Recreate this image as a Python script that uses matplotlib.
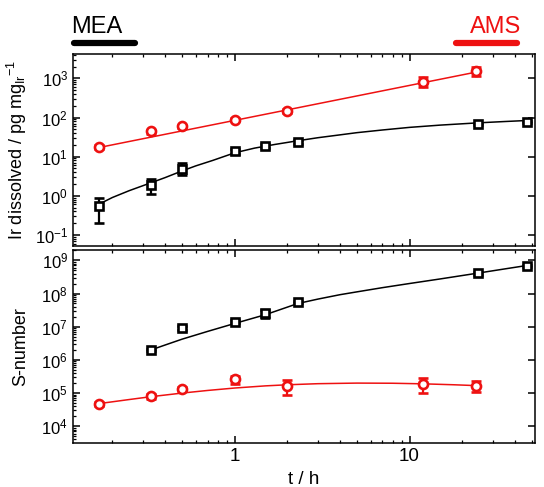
import numpy as np
import matplotlib
matplotlib.use('Agg')
import matplotlib.pyplot as plt
from matplotlib.ticker import LogLocator, NullFormatter, FixedLocator, FixedFormatter

plt.rcParams['font.family'] = ['Liberation Sans', 'DejaVu Sans']
plt.rcParams['mathtext.fontset'] = 'custom'
plt.rcParams['mathtext.rm'] = 'Liberation Sans'
plt.rcParams['mathtext.it'] = 'Liberation Sans:italic'
plt.rcParams['axes.linewidth'] = 1.1

RED = '#ee1111'

# dissolved Ir, pg per mg Ir
t_ams = [0.1667, 0.333, 0.5, 1.0, 2.0, 12.0, 24.0]
ir_ams = [17.3, 44, 60, 88, 147, 830, 1550]
ir_ams_err = [2, 5, 6, 8, 15, 230, 400]

t_mea = [0.1667, 0.333, 0.5, 1.0, 1.5, 2.3, 24.5, 47.0]
ir_mea = [0.56, 1.9, 4.9, 13.6, 19, 24, 68, 77]
ir_mea_lo = [0.36, 0.8, 1.5, 2.0, 2.5, 2.5, 5, 5]
ir_mea_hi = [0.33, 0.8, 1.8, 2.0, 2.5, 2.5, 5, 5]

# fitted curves, dissolution
fit_ams_t = [0.1667, 24.0]
fit_ams_ir = [17.0, 1450.0]
fit_mea_t = [0.1667, 0.2, 0.25, 0.333, 0.4, 0.5, 0.6, 0.75, 1.0, 1.3, 1.7, 2.3,
             3.0, 4.0, 5.0, 7.0, 10.0, 15.0, 24.5, 35.0, 47.0]
fit_mea_ir = [0.6, 0.9, 1.35, 2.15, 2.9, 4.3, 5.8, 8.0, 12.5, 16.5, 20.5, 25.5,
              30.5, 36, 41, 48, 56, 64, 73, 79, 84]

# S-number
s_t_mea = [0.333, 0.5, 1.0, 1.5, 2.3, 24.5, 47.0]
s_mea = [2.0e6, 9.0e6, 1.4e7, 2.5e7, 5.6e7, 4.1e8, 6.6e8]
s_mea_err = [2e5, 1.2e6, 1.5e6, 7e6, 4e6, 4e7, 4e7]

s_t_ams = [0.1667, 0.333, 0.5, 1.0, 2.0, 12.0, 24.0]
s_ams = [4.8e4, 8.1e4, 1.35e5, 2.6e5, 1.65e5, 1.9e5, 1.67e5]
s_ams_err = [6e3, 1.6e4, 2e4, 7e4, 7.5e4, 9e4, 6e4]

fit_s_mea_t = [0.333, 0.4, 0.5, 0.7, 1.0, 1.5, 2.3, 3.0, 4.0, 5.0, 7.0, 10.0,
               15.0, 24.5, 35.0, 47.0]
fit_s_mea = [2.0e6, 2.8e6, 4.2e6, 7.2e6, 1.25e7, 2.3e7, 5.0e7, 6.8e7, 9.2e7,
             1.12e8, 1.5e8, 2.0e8, 2.75e8, 4.1e8, 5.5e8, 7.0e8]
fit_s_ams_t = [0.1667, 0.25, 0.333, 0.5, 0.7, 1.0, 1.5, 2.0, 3.0, 5.0, 8.0,
               12.0, 18.0, 24.0]
fit_s_ams = [4.8e4, 6.4e4, 7.8e4, 1.0e5, 1.2e5, 1.42e5, 1.65e5, 1.78e5, 1.92e5,
             2.0e5, 1.98e5, 1.9e5, 1.78e5, 1.68e5]

xticks = [1, 10]
xticklabels = ['1', '10']

fig = plt.figure(figsize=(5.44, 4.87), dpi=100)
ax1 = fig.add_axes([0.134, 0.495, 0.849, 0.394])
ax2 = fig.add_axes([0.134, 0.090, 0.849, 0.396])

mk = dict(markerfacecolor='white', markeredgewidth=1.9, capsize=3.5,
          elinewidth=1.6, capthick=1.6, linestyle='none')

ax1.plot(fit_ams_t, fit_ams_ir, color=RED, lw=1.1)
ax1.plot(fit_mea_t, fit_mea_ir, color='black', lw=1.1)
ax1.errorbar(t_ams, ir_ams, yerr=ir_ams_err, marker='o', ms=6.5, color=RED, **mk)
ax1.errorbar(t_mea, ir_mea, yerr=[ir_mea_lo, ir_mea_hi], marker='s', ms=6, color='black', **mk)

ax2.plot(fit_s_mea_t, fit_s_mea, color='black', lw=1.1)
ax2.plot(fit_s_ams_t, fit_s_ams, color=RED, lw=1.1)
ax2.errorbar(s_t_mea, s_mea, yerr=s_mea_err, marker='s', ms=6, color='black', **mk)
ax2.errorbar(s_t_ams, s_ams, yerr=s_ams_err, marker='o', ms=6.5, color=RED, **mk)

for ax in (ax1, ax2):
    ax.set_xscale('log')
    ax.set_yscale('log')
    ax.set_xlim(0.119, 52)
    ax.xaxis.set_major_locator(FixedLocator(xticks))
    ax.xaxis.set_major_formatter(FixedFormatter(xticklabels))
    ax.xaxis.set_minor_locator(LogLocator(base=10, subs=np.arange(2, 10)))
    ax.xaxis.set_minor_formatter(NullFormatter())
    ax.yaxis.set_major_locator(LogLocator(base=10, numticks=20))
    ax.yaxis.set_minor_locator(LogLocator(base=10, subs=np.arange(2, 10), numticks=20))
    ax.yaxis.set_minor_formatter(NullFormatter())
    ax.tick_params(which='both', direction='in', top=True, right=True)
    ax.tick_params(axis='y', labelsize=12)
    ax.tick_params(axis='x', labelsize=13.5)
    ax.tick_params(which='major', length=5, width=1.1)
    ax.tick_params(which='minor', length=2.5, width=0.9)
    ax.tick_params(axis='y', which='minor', right=False)
    ax.yaxis.set_label_coords(-0.095, 0.5)

ax1.set_ylim(0.052, 4200)
ax1.tick_params(labelbottom=False)
ax1.set_ylabel(r'Ir dissolved / pg mg$_{\mathregular{Ir}}$$^{\mathregular{-1}}$', fontsize=13)

ax2.set_ylim(3100, 2e9)
ax2.set_ylabel('S-number', fontsize=13)
ax2.set_xlabel('t / h', fontsize=13.5)

# electrolyte markers above the plot
fig.text(71 / 544, 1 - 33 / 487, 'MEA', fontsize=17, color='black', ha='left', va='baseline')
fig.text(521 / 544, 1 - 33 / 487, 'AMS', fontsize=17, color=RED, ha='right', va='baseline')
fig.add_artist(plt.Line2D([74 / 544, 135 / 544], [1 - 43 / 487] * 2, color='black',
                          lw=4.5, solid_capstyle='round'))
fig.add_artist(plt.Line2D([456 / 544, 517 / 544], [1 - 43 / 487] * 2, color=RED,
                          lw=4.5, solid_capstyle='round'))

fig.savefig('out.png', dpi=100)
